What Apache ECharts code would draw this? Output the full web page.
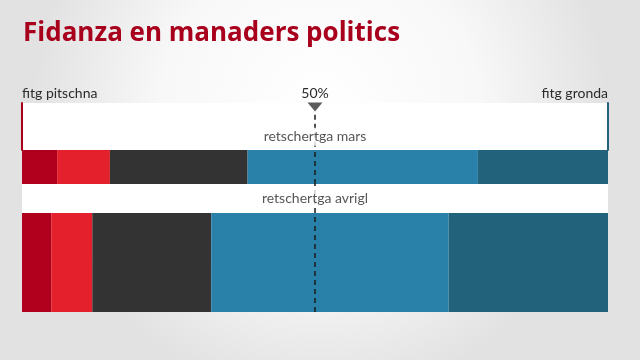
<!DOCTYPE html>
<html><head><meta charset="utf-8">
<script src="https://cdn.jsdelivr.net/npm/echarts@6/dist/echarts.min.js"></script>
<style>html,body{margin:0;padding:0;}#c{width:640px;height:360px;}</style>
</head><body><div id="c"></div>
<script>
const titleText = 'Fidanza en manaders politics';
const categories = ['retschertga mars', 'retschertga avrigl'];
const segments = ['fitg pitschna', 'pitschna', 'mez', 'gronda', 'fitg gronda'];
const marsValues = [6, 9, 23.5, 39.3, 22.2];
const avriglValues = [5, 7, 20.3, 40.5, 27.2];
const scaleLabels = ['fitg pitschna', '50%', 'fitg gronda'];
const midValue = 50;

const colors = ['#b0001e', '#e3202c', '#333333', '#2980a8', '#23627b'];
const FONT = 'Lato';
const TXT = '#2b2b2b';

const chart = echarts.init(document.getElementById('c'), null, {renderer: 'canvas'});

const gridBase = {left: 22, right: 32, containLabel: false};
const grids = [
  Object.assign({}, gridBase, {top: 103, height: 47, show: true, backgroundColor: '#ffffff', borderWidth: 0}),
  Object.assign({}, gridBase, {top: 150, height: 34}),
  Object.assign({}, gridBase, {top: 184, height: 29, show: true, backgroundColor: '#ffffff', borderWidth: 0}),
  Object.assign({}, gridBase, {top: 213, height: 99})
];

const xAxes = grids.map((g, i) => ({
  type: 'value', gridIndex: i, min: 0, max: 100, interval: 50,
  position: 'top',
  show: i === 0,
  axisLine: {show: false}, axisTick: {show: false}, splitLine: {show: false},
  axisLabel: {
    show: i === 0, margin: 3, color: TXT, fontFamily: FONT, fontSize: 14,
    alignMinLabel: 'left', alignMaxLabel: 'right',
    formatter: v => scaleLabels[Math.round(v / 50)]
  }
}));

const hiddenValueY = (gi) => ({type: 'value', gridIndex: gi, min: 0, max: 1, show: false});
const yAxes = [
  {type: 'value', gridIndex: 0, min: 0, max: 1, position: 'left', z: 10,
   axisLine: {show: true, lineStyle: {color: '#a8001c', width: 2}},
   axisTick: {show: false}, axisLabel: {show: false}, splitLine: {show: false}},
  {type: 'value', gridIndex: 0, min: 0, max: 1, position: 'right', z: 10,
   axisLine: {show: true, lineStyle: {color: '#23627b', width: 2}},
   axisTick: {show: false}, axisLabel: {show: false}, splitLine: {show: false}},
  {type: 'category', gridIndex: 1, data: [categories[0]], show: false},
  hiddenValueY(2),
  {type: 'category', gridIndex: 3, data: [categories[1]], show: false}
];

const dashStyle = {color: '#1a1a1a', width: 1.5, type: [5, 4]};

function barSeries(values, xi, yi, stack) {
  return values.map((v, i) => {
    const s = {
      name: segments[i], type: 'bar', stack: stack,
      xAxisIndex: xi, yAxisIndex: yi,
      data: [v], barWidth: '100%', barCategoryGap: 0,
      itemStyle: {color: colors[i]},
      silent: true
    };
    if (i === values.length - 1) {
      s.z = 5;
      s.markLine = {silent: true, symbol: 'none', label: {show: false},
        lineStyle: dashStyle, data: [{xAxis: midValue}]};
    }
    return s;
  });
}

const labelStyle = {
  show: true, position: 'inside', color: TXT, fontFamily: FONT, fontSize: 14,
  backgroundColor: '#ffffff', padding: [2, 4]
};

const series = [
  {type: 'scatter', xAxisIndex: 0, yAxisIndex: 0, silent: true,
   data: [[midValue, 0.915]], symbol: 'triangle', symbolRotate: 180,
   symbolSize: [15, 9], itemStyle: {color: '#333333'},
   markLine: {silent: true, symbol: 'none', label: {show: false}, lineStyle: dashStyle,
     data: [[{coord: [midValue, 0.75]}, {coord: [midValue, 0]}]]}},
  {type: 'scatter', xAxisIndex: 0, yAxisIndex: 0, silent: true, z: 6,
   data: [[midValue, 0.28]], symbolSize: 0,
   label: Object.assign({}, labelStyle, {formatter: categories[0]})},
  ...barSeries(marsValues, 1, 2, 'mars'),
  {type: 'scatter', xAxisIndex: 2, yAxisIndex: 3, silent: true,
   data: [], symbolSize: 0,
   markLine: {silent: true, symbol: 'none', label: {show: false}, lineStyle: dashStyle,
     data: [{xAxis: midValue}]}},
  {type: 'scatter', xAxisIndex: 2, yAxisIndex: 3, silent: true, z: 6,
   data: [[midValue, 0.5]], symbolSize: 0,
   label: Object.assign({}, labelStyle, {formatter: categories[1]})},
  ...barSeries(avriglValues, 3, 4, 'avrigl')
];

chart.setOption({
  animation: false,
  backgroundColor: {
    type: 'radial', x: 0.5, y: 0.3, r: 0.8,
    colorStops: [{offset: 0, color: '#ffffff'}, {offset: 0.55, color: '#f8f8f8'}, {offset: 1, color: '#e2e2e2'}]
  },
  title: {
    text: titleText, left: 18, top: 16,
    textStyle: {color: '#a8001c', fontSize: 26, fontWeight: 'bold', fontFamily: 'Open Sans'}
  },
  grid: grids,
  xAxis: xAxes,
  yAxis: yAxes,
  series: series
});
</script>
</body></html>
